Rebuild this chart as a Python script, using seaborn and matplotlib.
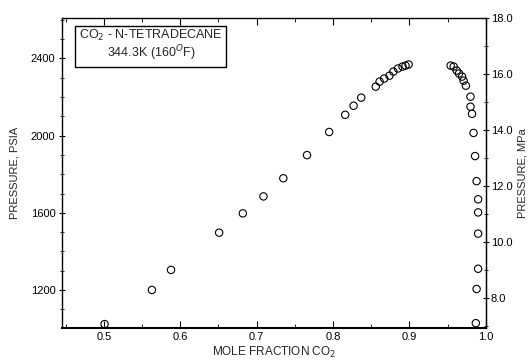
import numpy as np
import pandas as pd
import matplotlib
matplotlib.use("Agg")
import matplotlib.pyplot as plt
import seaborn as sns
from matplotlib.ticker import MultipleLocator

# Data: mole fraction CO2 vs pressure (psia)
x_liquid = [0.501, 0.563, 0.588, 0.651, 0.682, 0.709, 0.735, 0.766, 0.795, 0.816,
            0.827, 0.837, 0.856, 0.861, 0.867, 0.874, 0.879, 0.885, 0.891, 0.895, 0.899]
p_liquid = [1023, 1200, 1304, 1497, 1597, 1685, 1779, 1899, 2019, 2108,
            2155, 2197, 2254, 2280, 2296, 2311, 2332, 2348, 2358, 2363, 2369]
x_vapor = [0.954, 0.958, 0.962, 0.965, 0.969, 0.971, 0.974, 0.980, 0.980, 0.982,
           0.984, 0.986, 0.988, 0.990, 0.990, 0.990, 0.990, 0.988, 0.987]
p_vapor = [2363, 2358, 2337, 2322, 2306, 2285, 2259, 2202, 2150, 2113,
           2014, 1894, 1764, 1670, 1602, 1492, 1310, 1205, 1028]

x_ticks = [0.5, 0.6, 0.7, 0.8, 0.9, 1.0]
psi_ticks = [1200, 1600, 2000, 2400]
mpa_ticks = [8.0, 10.0, 12.0, 14.0, 16.0, 18.0]

PSI_PER_MPA = 145.038

df = pd.DataFrame({"x": x_liquid + x_vapor, "p": p_liquid + p_vapor})

sns.set_style("white")
plt.rcParams['font.family'] = ['Liberation Sans', 'DejaVu Sans']

fig = plt.figure(figsize=(5.28, 3.64), dpi=100)
ax = fig.add_axes([0.117, 0.099, 0.803, 0.852])

sns.scatterplot(data=df, x="x", y="p", ax=ax, marker="o", s=28,
                facecolors="none", edgecolor="black", linewidth=0.8, legend=False)

ax.set_xlim(0.445, 1.0)
ax.set_ylim(1003, 18.0 * PSI_PER_MPA)

ax.set_xticks(x_ticks)
ax.set_xticklabels([f"{v:.1f}" for v in x_ticks])
ax.xaxis.set_minor_locator(MultipleLocator(0.05))
ax.set_yticks(psi_ticks)
ax.set_yticklabels([str(v) for v in psi_ticks])
ax.yaxis.set_minor_locator(MultipleLocator(100))

for s in ax.spines.values():
    s.set_visible(True)
    s.set_color("black")
    s.set_linewidth(1.0)
ax.spines['bottom'].set_linewidth(1.5)

ax.tick_params(axis='x', which='both', direction='in', top=True, bottom=True,
               labelsize=8, colors='black', pad=3)
ax.tick_params(axis='x', which='major', length=5, width=0.8)
ax.tick_params(axis='x', which='minor', length=3, width=0.6)
ax.tick_params(axis='y', which='both', direction='inout', left=True, right=False,
               labelsize=8, colors='black', pad=2)
ax.tick_params(axis='y', which='major', length=5, width=0.8)
ax.tick_params(axis='y', which='minor', length=3, width=0.6)

sec = ax.secondary_yaxis('right', functions=(lambda p: p / PSI_PER_MPA,
                                              lambda m: m * PSI_PER_MPA))
sec.set_yticks(mpa_ticks)
sec.set_yticklabels([f"{v:.1f}" for v in mpa_ticks])
sec.yaxis.set_minor_locator(MultipleLocator(1.0))
sec.tick_params(axis='y', which='both', direction='inout', labelsize=8, colors='black', pad=1)
sec.tick_params(axis='y', which='major', length=5, width=0.8)
sec.tick_params(axis='y', which='minor', length=3, width=0.6)
sec.set_ylabel("PRESSURE, MPa", fontsize=8, rotation=90, labelpad=4)

ax.set_xlabel("MOLE FRACTION CO$_2$", fontsize=8.5, labelpad=2)
ax.set_ylabel("PRESSURE, PSIA", fontsize=8, labelpad=8)

ax.text(0.21, 0.91, "CO$_2$ - N-TETRADECANE\n344.3K (160$^{O}$F)",
        transform=ax.transAxes, fontsize=9, ha='center', va='center',
        linespacing=1.05,
        bbox=dict(boxstyle='square,pad=0.3', facecolor='white',
                  edgecolor='black', linewidth=1.0))

fig.savefig("out.png", dpi=100)
